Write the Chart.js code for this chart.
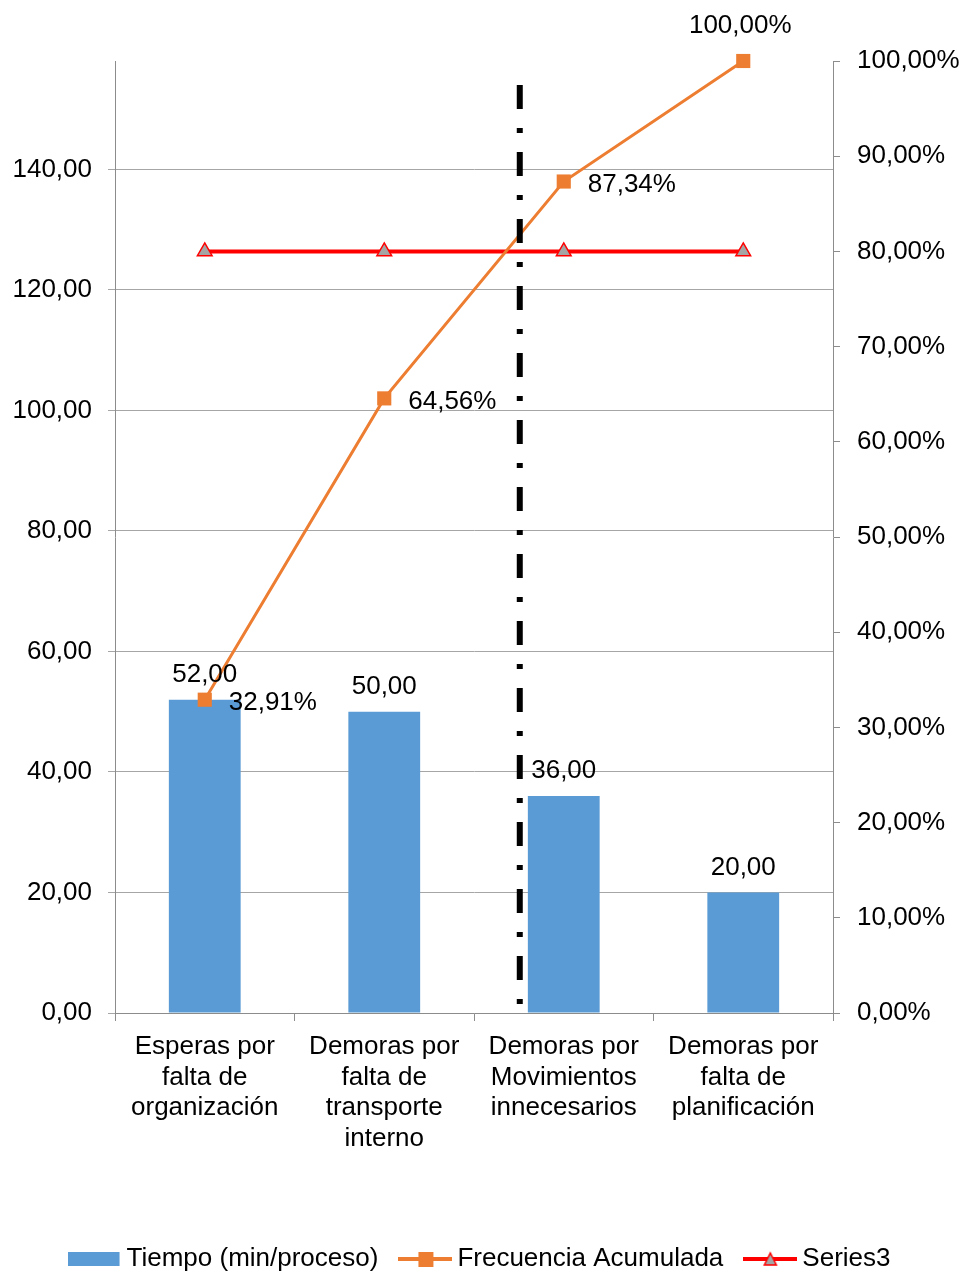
<!DOCTYPE html>
<html lang="es">
<head>
<meta charset="utf-8">
<title>Diagrama de Pareto - Tiempo por proceso</title>
<script src="https://cdn.jsdelivr.net/npm/chart.js@4.4.1/dist/chart.umd.min.js"></script>
<style>
  html, body { margin: 0; padding: 0; background: #ffffff; }
  canvas { display: block; }
</style>
</head>
<body>
<canvas id="pareto" width="966" height="1277"></canvas>
<script>
// ----------------------------------------
// Datos del diagrama
// ----------------------------------------
const categorias = [
    ['Esperas por', 'falta de', 'organización'],
    ['Demoras por', 'falta de', 'transporte', 'interno'],
    ['Demoras por', 'Movimientos', 'innecesarios'],
    ['Demoras por', 'falta de', 'planificación']
];
const tiempos = [52, 50, 36, 20];              // min/proceso
const acumulada = [32.91, 64.56, 87.34, 100];   // %
const serie3 = [80, 80, 80, 80];                // % (linea del 80%)
const ticksTiempo = [0, 20, 40, 60, 80, 100, 120, 140];
const ticksPorcentaje = [0, 10, 20, 30, 40, 50, 60, 70, 80, 90, 100];
const maxTiempo = 158;                          // total de minutos
const corteIndice = 1.755;                      // linea de corte, en unidades de categoria
const corteTope = 154;                          // extremo superior de la linea de corte (eje izq.)

// Colores
const colores = {
    barra: '#5B9BD5',
    acumulada: '#ED7D31',
    serie3: '#FF0000',
    triangulo: '#A5A5A5',
    eje: '#8C8C8C',
    rejilla: '#A6A6A6',
    texto: '#000000'
};

const fuente = "'Liberation Sans', Arial, sans-serif";
Chart.defaults.font.family = fuente;
Chart.defaults.color = colores.texto;

const fmt = v => v.toFixed(2).replace('.', ',');

// Iconos de la leyenda (linea + marcador, como en Excel)
function iconoLeyenda(tipo) {
    const c = document.createElement('canvas');
    c.width = 54;
    c.height = 16;
    const g = c.getContext('2d');
    if (tipo === 'barra') {
        g.fillStyle = colores.barra;
        g.fillRect(0, 1, 52, 14);
    } else if (tipo === 'acumulada') {
        g.strokeStyle = colores.acumulada;
        g.lineWidth = 4;
        g.beginPath(); g.moveTo(0, 8); g.lineTo(54, 8); g.stroke();
        g.fillStyle = colores.acumulada;
        g.fillRect(20, 1, 15, 15);
    } else {
        g.strokeStyle = colores.serie3;
        g.lineWidth = 4;
        g.beginPath(); g.moveTo(0, 8); g.lineTo(54, 8); g.stroke();
        g.fillStyle = colores.triangulo;
        g.lineWidth = 1.5;
        g.beginPath(); g.moveTo(27, 2); g.lineTo(33, 14); g.lineTo(21, 14); g.closePath();
        g.fill(); g.stroke();
    }
    return c;
}
const iconos = [iconoLeyenda('barra'), iconoLeyenda('acumulada'), iconoLeyenda('serie3')];

// Etiquetas de datos y linea de corte
const etiquetasPlugin = {
    id: 'etiquetas',
    afterDatasetsDraw(chart) {
        const { ctx, chartArea, scales } = chart;

        // Linea de corte (raya-punto)
        const base = Math.floor(corteIndice);
        const x0 = scales.x.getPixelForValue(base);
        const x1 = scales.x.getPixelForValue(base + 1);
        const xc = x0 + (corteIndice - base) * (x1 - x0);
        ctx.save();
        ctx.strokeStyle = '#000000';
        ctx.lineWidth = 6;
        ctx.setLineDash([24, 19, 5, 19]);
        ctx.beginPath();
        ctx.moveTo(xc, scales.y.getPixelForValue(corteTope));
        ctx.lineTo(xc, chartArea.bottom + 7);
        ctx.stroke();
        ctx.restore();

        ctx.save();
        ctx.font = '26px ' + fuente;
        ctx.fillStyle = colores.texto;
        ctx.textBaseline = 'middle';

        // Valores de las barras
        ctx.textAlign = 'center';
        chart.getDatasetMeta(0).data.forEach((el, i) => {
            ctx.fillText(fmt(tiempos[i]), el.x, el.y - 25);
        });

        // Valores de la frecuencia acumulada
        const pts = chart.getDatasetMeta(1).data;
        pts.forEach((el, i) => {
            const txt = fmt(acumulada[i]) + '%';
            if (i === pts.length - 1) {
                ctx.textAlign = 'center';
                ctx.fillText(txt, el.x - 3, el.y - 35);
            } else {
                ctx.textAlign = 'left';
                ctx.fillText(txt, el.x + 24, el.y + 3);
            }
        });
        ctx.restore();
    }
};

new Chart(document.getElementById('pareto'), {
    type: 'bar',
    data: {
        labels: categorias,
        datasets: [
            {
                label: 'Tiempo (min/proceso)',
                data: tiempos,
                yAxisID: 'y',
                backgroundColor: colores.barra,
                barPercentage: 0.4,
                categoryPercentage: 1.0,
                order: 3
            },
            {
                type: 'line',
                label: 'Frecuencia Acumulada',
                data: acumulada,
                yAxisID: 'y1',
                borderColor: colores.acumulada,
                borderWidth: 3,
                pointStyle: 'rect',
                pointRadius: 10,
                pointBackgroundColor: colores.acumulada,
                pointBorderWidth: 0,
                tension: 0,
                fill: false,
                clip: false,
                order: 1
            },
            {
                type: 'line',
                label: 'Series3',
                data: serie3,
                yAxisID: 'y1',
                borderColor: colores.serie3,
                borderWidth: 4,
                pointStyle: 'triangle',
                pointRadius: 8.5,
                pointBackgroundColor: colores.triangulo,
                pointBorderColor: colores.serie3,
                pointBorderWidth: 1.5,
                tension: 0,
                fill: false,
                clip: false,
                order: 2
            }
        ]
    },
    options: {
        responsive: false,
        animation: false,
        devicePixelRatio: 1,
        layout: { padding: { top: 61, bottom: -5, left: 0, right: 0 } },
        scales: {
            x: {
                offset: true,
                grid: { display: true, drawOnChartArea: false, offset: true, tickLength: 8, color: colores.eje },
                border: { color: colores.eje, width: 1 },
                ticks: {
                    color: colores.texto,
                    font: { size: 26, lineHeight: 1.17 },
                    padding: 11,
                    maxRotation: 0,
                    autoSkip: false
                },
                afterFit(s) {
                    const leg = s.chart.legend ? s.chart.legend.height : 0;
                    s.height = s.chart.height + 5 - leg - 1013;
                }
            },
            y: {
                position: 'left',
                min: 0,
                max: maxTiempo,
                grid: { color: colores.rejilla, tickLength: 7 },
                border: { color: colores.eje },
                ticks: {
                    color: colores.texto,
                    font: { size: 26 },
                    padding: 16,
                    callback: v => fmt(v)
                },
                afterBuildTicks(s) { s.ticks = ticksTiempo.map(v => ({ value: v })); },
                afterFit(s) { s.width = 115; }
            },
            y1: {
                position: 'right',
                min: 0,
                max: 100,
                grid: { drawOnChartArea: false, color: colores.eje, tickLength: 7 },
                border: { color: colores.eje },
                ticks: {
                    color: colores.texto,
                    font: { size: 26 },
                    padding: 17,
                    callback: v => fmt(v) + '%'
                },
                afterBuildTicks(s) { s.ticks = ticksPorcentaje.map(v => ({ value: v })); },
                afterFit(s) { s.width = 133; }
            }
        },
        plugins: {
            tooltip: { enabled: false },
            legend: {
                position: 'bottom',
                labels: {
                    color: colores.texto,
                    font: { size: 26 },
                    usePointStyle: true,
                    pointStyleWidth: 38,
                    padding: 28,
                    generateLabels(chart) {
                        return chart.data.datasets.map((ds, i) => ({
                            text: ds.label,
                            pointStyle: iconos[i],
                            fontColor: colores.texto,
                            fillStyle: 'transparent',
                            strokeStyle: 'transparent',
                            lineWidth: 0,
                            hidden: !chart.isDatasetVisible(i),
                            datasetIndex: i
                        }));
                    }
                }
            }
        }
    },
    plugins: [etiquetasPlugin]
});
</script>
</body>
</html>
